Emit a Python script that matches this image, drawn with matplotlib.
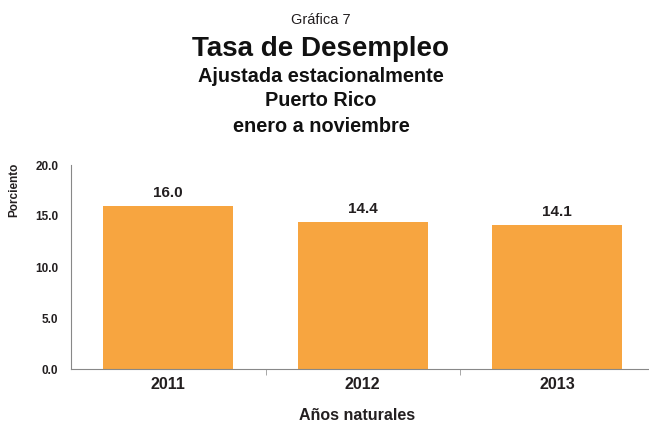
import numpy as np
import matplotlib.pyplot as plt

plt.rcParams['font.family'] = ['Liberation Sans', 'DejaVu Sans']

years = ['2011', '2012', '2013']
tasa = [16.0, 14.4, 14.1]
yticks = [0.0, 5.0, 10.0, 15.0, 20.0]

fig = plt.figure(figsize=(6.49, 4.23), dpi=100)
ax = fig.add_axes([71 / 649, 1 - 369 / 423, 578 / 649, 204 / 423])

x = np.arange(len(years))
bars = ax.bar(x, tasa, width=0.67, color='#F7A540', zorder=2)
for b, v in zip(bars, tasa):
    ax.text(b.get_x() + b.get_width() / 2, v + 0.6, f'{v:.1f}',
            ha='center', va='bottom', fontsize=11, fontweight='bold', color='#231F20')

ax.set_xlim(-0.5, -0.5 + 578 / 194.5)
ax.set_ylim(0, 20)
ax.set_yticks(yticks)
ax.set_yticklabels([f'{t:.1f}' for t in yticks], fontsize=8.5, fontweight='bold', color='#231F20')
ax.set_xticks(x)
ax.set_xticklabels(years, fontsize=11.5, fontweight='bold', color='#231F20')
ax.set_xticks(x[:-1] + 0.5, minor=True)
ax.tick_params(axis='x', which='major', length=0, pad=6)
ax.tick_params(axis='x', which='minor', length=4, color='#999999', direction='out')
ax.tick_params(axis='y', length=0, pad=9)

for s in ['top', 'right']:
    ax.spines[s].set_visible(False)
for s in ['left', 'bottom']:
    ax.spines[s].set_color('#888888')
    ax.spines[s].set_linewidth(0.8)

fig.text(14 / 649, 1 - 190 / 423, 'Porciento', rotation=90, ha='center', va='center',
         fontsize=8.5, fontweight='bold', color='#231F20')
fig.text(357 / 649, 1 - 415 / 423, 'Años naturales', ha='center', va='center',
         fontsize=11.5, fontweight='bold', color='#231F20')

fig.text(321 / 649, 1 - 20 / 423, 'Gráfica 7', ha='center', va='center', fontsize=10.5, color='#231F20')
fig.text(321 / 649, 1 - 49 / 423, 'Tasa de Desempleo', ha='center', va='center',
         fontsize=20, fontweight='bold', color='#111111')
fig.text(321 / 649, 1 - 76 / 423, 'Ajustada estacionalmente', ha='center', va='center',
         fontsize=14.3, fontweight='bold', color='#111111')
fig.text(321 / 649, 1 - 101 / 423, 'Puerto Rico', ha='center', va='center',
         fontsize=14.3, fontweight='bold', color='#111111')
fig.text(321 / 649, 1 - 126 / 423, 'enero a noviembre', ha='center', va='center',
         fontsize=14.3, fontweight='bold', color='#111111')

fig.savefig('out.png', dpi=100)
